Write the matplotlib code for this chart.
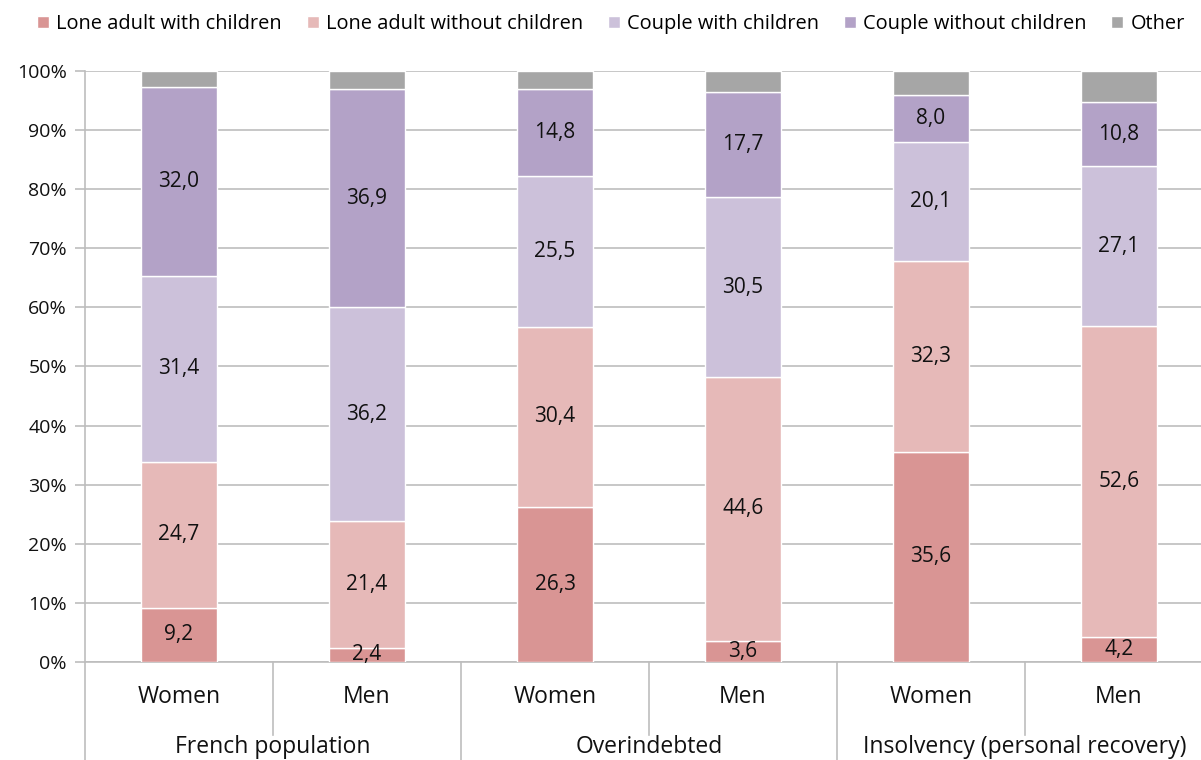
import matplotlib
matplotlib.use('Agg')
import matplotlib.pyplot as plt
import numpy as np

plt.rcParams['font.family'] = ['Open Sans', 'DejaVu Sans']

categories = ['Women', 'Men', 'Women', 'Men', 'Women', 'Men']
groups = ['French population', 'Overindebted', 'Insolvency (personal recovery)']
series_names = ['Lone adult with children', 'Lone adult without children',
                'Couple with children', 'Couple without children', 'Other']
lone_with = [9.2, 2.4, 26.3, 3.6, 35.6, 4.2]
lone_without = [24.7, 21.4, 30.4, 44.6, 32.3, 52.6]
couple_with = [31.4, 36.2, 25.5, 30.5, 20.1, 27.1]
couple_without = [32.0, 36.9, 14.8, 17.7, 8.0, 10.8]
other = [2.7, 3.1, 3.0, 3.6, 4.0, 5.3]
y_ticks = [0, 10, 20, 30, 40, 50, 60, 70, 80, 90, 100]

series = [lone_with, lone_without, couple_with, couple_without, other]
colors = ['#D99594', '#E6B9B8', '#CCC1DA', '#B3A2C7', '#A6A6A6']
labelled = [True, True, True, True, False]

W, H = 1201, 760
fig = plt.figure(figsize=(W / 100, H / 100), dpi=100)
ax = fig.add_axes([85 / W, 98 / H, 1128 / W, 591 / H])

x = np.arange(len(categories))
bottom = np.zeros(len(categories))
handles = []
for name, vals, col, lab in zip(series_names, series, colors, labelled):
    vals = np.array(vals)
    bars = ax.bar(x, vals, width=0.4, bottom=bottom, color=col,
                  edgecolor='white', linewidth=1.0, label=name, zorder=3)
    handles.append(bars)
    if lab:
        for xi, b, v in zip(x, bottom, vals):
            ax.text(xi, b + v / 2, f'{v:.1f}'.replace('.', ','),
                    ha='center', va='center', fontsize=15, color='#111111',
                    zorder=4)
    bottom = bottom + vals

grid_col = '#BDBDBD'
ax.set_xlim(-0.5, len(categories) - 0.5)
ax.set_ylim(0, 100)
ax.set_yticks(y_ticks)
ax.set_yticklabels([f'{t}%' for t in y_ticks], fontsize=14, color='#111111')
ax.yaxis.grid(True, color=grid_col, linewidth=1.2, zorder=0)
ax.set_axisbelow(True)
ax.tick_params(axis='y', length=7, width=1.2, color=grid_col, pad=6)
ax.set_xticks([])
for s in ['top', 'right']:
    ax.spines[s].set_visible(False)
ax.spines['left'].set_color(grid_col)
ax.spines['left'].set_linewidth(1.2)
ax.spines['bottom'].set_color(grid_col)
ax.spines['bottom'].set_linewidth(1.2)

trans = ax.get_xaxis_transform()
# category labels
for xi, c in zip(x, categories):
    ax.text(xi, -0.059, c, transform=trans, ha='center', va='center',
            fontsize=16.5, color='#111111', clip_on=False)
# group labels
for gi, g in enumerate(groups):
    ax.text(2 * gi + 0.5, -0.143, g, transform=trans, ha='center', va='center',
            fontsize=16.5, color='#111111', clip_on=False)
# separators
for i in range(len(categories) + 1):
    xb = i - 0.5
    y_end = -0.17 if i % 2 == 0 else -0.124
    ax.plot([xb, xb], [0, y_end], transform=trans, color=grid_col,
            linewidth=1.2, clip_on=False)

fig.legend(handles=handles, labels=series_names, loc='center left',
           bbox_to_anchor=(37 / W, 1 - 24 / H), ncol=5, frameon=False,
           fontsize=14.4, handlelength=0.6, handleheight=0.6,
           handletextpad=0.35, columnspacing=1.25, borderpad=0,
           borderaxespad=0)

fig.savefig('out.png', dpi=100)
